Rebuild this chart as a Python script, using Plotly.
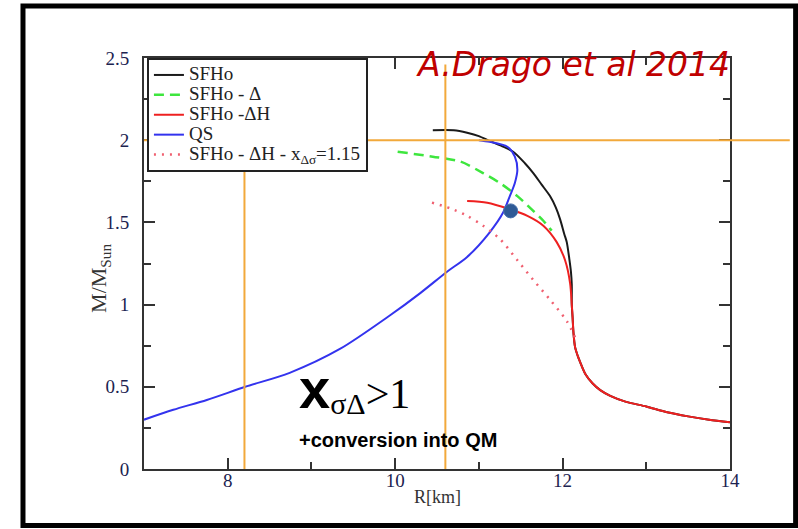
import plotly.graph_objects as go

# Mass-radius relations (R in km, M in solar masses)
sfho_r = [10.45, 10.70, 10.86, 11.00, 11.13, 11.27, 11.41, 11.55, 11.65, 11.75,
          11.85, 11.92, 11.97, 12.02, 12.05, 12.08, 12.10, 12.11]
sfho_m = [2.06, 2.06, 2.045, 2.025, 1.995, 1.965, 1.93, 1.86, 1.80, 1.73,
          1.66, 1.59, 1.52, 1.43, 1.38, 1.28, 1.20, 1.12]

# low-mass branch shared by the hadronic models
tail_r = [12.11, 12.12, 12.13, 12.15, 12.18, 12.21, 12.27, 12.36, 12.45, 12.57,
          12.75, 13.0, 13.25, 13.5, 13.75, 14.0]
tail_m = [1.00, 0.92, 0.83, 0.74, 0.69, 0.65, 0.58, 0.52, 0.48, 0.445,
          0.41, 0.38, 0.345, 0.32, 0.30, 0.285]

delta_r = [10.03, 10.45, 10.78, 11.05, 11.25, 11.46, 11.65, 11.77, 11.87]
delta_m = [1.93, 1.90, 1.87, 1.80, 1.74, 1.66, 1.57, 1.51, 1.45]

dh_r = [10.86, 11.10, 11.37, 11.58, 11.77, 11.93, 12.03, 12.09]
dh_m = [1.63, 1.62, 1.58, 1.54, 1.48, 1.38, 1.27, 1.13]

qs_r = [7.0, 7.35, 7.75, 8.21, 8.74, 9.34, 9.94, 10.30, 10.62, 10.86,
        11.13, 11.29, 11.37, 11.43, 11.46, 11.43, 11.34, 11.13, 11.0]
qs_m = [0.30, 0.36, 0.42, 0.50, 0.585, 0.73, 0.935, 1.07, 1.20, 1.29,
        1.44, 1.56, 1.66, 1.74, 1.82, 1.90, 1.96, 1.99, 2.0]

dhx_r = [10.44, 10.66, 10.86, 11.05, 11.25, 11.46, 11.65, 11.85, 12.05, 12.15]
dhx_m = [1.62, 1.585, 1.54, 1.48, 1.40, 1.27, 1.15, 1.03, 0.90, 0.80]

# conversion point
point_r = [11.38]
point_m = [1.57]

# reference guides
guide_m = 2.0
guide_r1 = 8.2
guide_r2 = 10.6
guide_r2_top = 2.46

x_ticks = [8, 10, 12, 14]
y_ticks = [0, 0.5, 1, 1.5, 2, 2.5]

SERIF = "Liberation Serif"
ORANGE = "#f2a93b"

fig = go.Figure()


def label(text):
    # legend names are rendered larger than the row spacing font
    return f"<span style='font-size:19px'>{text}</span>"


def curve(x, y, name, color, width=2, dash=None):
    return go.Scatter(x=x, y=y, mode="lines", name=label(name),
                      line=dict(color=color, width=width, dash=dash,
                                shape="spline", smoothing=0.8))


fig.add_trace(curve(sfho_r + tail_r, sfho_m + tail_m, "SFHo", "#1a1a1a"))
fig.add_trace(curve(delta_r, delta_m, "SFHo - Δ", "#3ee63e", 2.5, "10px,6px"))
fig.add_trace(curve(dh_r + tail_r, dh_m + tail_m, "SFHo -ΔH", "#ee2020"))
fig.add_trace(curve(qs_r, qs_m, "QS", "#3333ee"))
fig.add_trace(curve(dhx_r, dhx_m, "SFHo - ΔH - x<sub>Δσ</sub>=1.15", "#f06070",
                    2.5, "2px,6px"))
fig.add_trace(go.Scatter(x=point_r, y=point_m, mode="markers", showlegend=False,
                         marker=dict(color="#2f5a96", size=14,
                                     line=dict(color="#4a72ad", width=1))))

# orange guide lines
fig.add_shape(type="line", xref="paper", yref="y", x0=0, x1=1.102,
              y0=guide_m, y1=guide_m, line=dict(color=ORANGE, width=2), layer="above")
fig.add_shape(type="line", xref="x", yref="y", x0=guide_r1, x1=guide_r1,
              y0=0, y1=guide_m, line=dict(color=ORANGE, width=2), layer="above")
fig.add_shape(type="line", xref="x", yref="y", x0=guide_r2, x1=guide_r2,
              y0=0, y1=guide_r2_top, line=dict(color=ORANGE, width=2), layer="above")

# outer frame
fig.add_shape(type="rect", xref="paper", yref="paper",
              x0=-0.2065, x1=1.112, y0=-0.1375, y1=1.1265,
              line=dict(color="black", width=5), layer="above")

axis_common = dict(
    showgrid=False, zeroline=False, showline=True, linecolor="#333333",
    linewidth=2, mirror="ticks", ticks="inside", ticklen=11, tickwidth=2,
    tickcolor="#333333",
    tickfont=dict(family=SERIF, size=19, color="#1c2350"),
)
minor_common = dict(ticks="inside", ticklen=7, tickwidth=2, tickcolor="#333333")

fig.update_xaxes(range=[7, 14], tickvals=x_ticks, ticktext=[str(v) for v in x_ticks],
                 minor=dict(dtick=1, tick0=7, **minor_common),
                 ticklabelstandoff=-7, **axis_common)
fig.update_yaxes(range=[0, 2.5], tickvals=y_ticks, ticktext=[f"{v:g}" for v in y_ticks],
                 minor=dict(dtick=0.25, tick0=0, **minor_common),
                 ticklabelstandoff=9, **axis_common)

fig.add_annotation(xref="paper", yref="paper", x=0.5, y=-0.068,
                   xanchor="center", yanchor="middle", showarrow=False,
                   text="R[km]", font=dict(family=SERIF, size=18, color="#333333"))
fig.add_annotation(xref="paper", yref="paper", x=-0.075, y=0.465,
                   xanchor="center", yanchor="middle", showarrow=False,
                   textangle=-90, text="M/M<sub>Sun</sub>",
                   font=dict(family=SERIF, size=22, color="#333333"))

fig.add_annotation(xref="paper", yref="paper", x=0.732, y=0.985,
                   xanchor="center", yanchor="middle", showarrow=False,
                   text="<i>A.Drago et al 2014</i>",
                   font=dict(family="DejaVu Sans", size=33, color="#c00000"))

fig.add_annotation(xref="paper", yref="paper", x=0.261, y=0.195,
                   xanchor="left", yanchor="middle", showarrow=False,
                   text=("<span style='font-family:Liberation Sans;font-weight:bold;"
                         "font-size:56px'>x</span><sub><span style='font-size:30px'>"
                         "σΔ</span></sub><span style='font-size:42px'>&gt;1</span>"),
                   font=dict(family=SERIF, size=30, color="black"))
fig.add_annotation(xref="paper", yref="paper", x=0.261, y=0.0706,
                   xanchor="left", yanchor="middle", showarrow=False,
                   text="<b>+conversion into QM</b>",
                   font=dict(family="Liberation Sans", size=20, color="black"))

fig.update_layout(
    width=798, height=529,
    margin=dict(l=144, r=68, t=58, b=60),
    plot_bgcolor="white", paper_bgcolor="white",
    legend=dict(x=0.005, y=1, xanchor="left", yanchor="top",
                bgcolor="white", bordercolor="#222222", borderwidth=2,
                font=dict(family=SERIF, size=13, color="#222222"),
                itemwidth=30, tracegroupgap=0),
)

fig.write_html("out.html")
